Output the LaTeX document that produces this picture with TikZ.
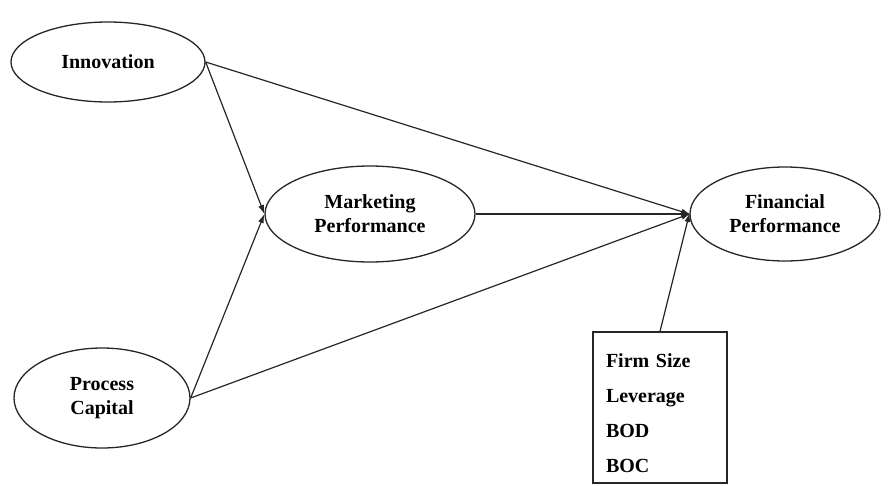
\documentclass[tikz,border=0pt]{standalone}
\usepackage{fontspec}
\setmainfont{Liberation Serif}
\usetikzlibrary{positioning,shapes.geometric,arrows.meta}

\begin{document}
\begin{tikzpicture}
        [x=1pt, y=-1pt,
        font=\bfseries\fontsize{20}{24}\selectfont,
        construct/.style={ellipse, draw=black!85, line width=1.3pt, inner sep=0pt, align=center},
        path/.style={draw=black!85, line width=1.2pt, -{Latex[length=9pt,width=6pt]}},
        link/.style={draw=black!85, line width=1.2pt, -{Latex[length=9pt,width=6pt]}, shorten >=-1pt}]
        \useasboundingbox (0,0) rectangle (894,485);
        \node [construct, minimum width=194pt, minimum height=80pt] (innovation) at (108,62) {Innovation};
        \node [construct, minimum width=210pt, minimum height=96pt] (marketing) at (370,214) {Marketing\\Performance};
        \node [construct, minimum width=190pt, minimum height=94pt] (financial) at (785,214) {Financial\\Performance};
        \node [construct, minimum width=176pt, minimum height=100pt] (process) at (102,398) {Process\\Capital};
        % control variables
        \node [draw=black!85, line width=1.3pt, minimum width=134pt, minimum height=151pt,
               text width=108pt, align=left, inner sep=0pt,
               font=\bfseries\fontsize{20}{35}\selectfont] (controls) at (660,407.5)
               {\rule{0pt}{26pt}Firm Size\\Leverage\\BOD\\BOC};
        \draw [path] (innovation.east) -- (marketing.west);
        \draw [path] (process.east) -- (marketing.west);
        \draw [link] (innovation.east) -- (financial.west);
        \draw [link] (marketing.east) -- (financial.west);
        \draw [link] (process.east) -- (financial.west);
        \draw [link] (controls.north) -- (financial.west);
\end{tikzpicture}
\end{document}
